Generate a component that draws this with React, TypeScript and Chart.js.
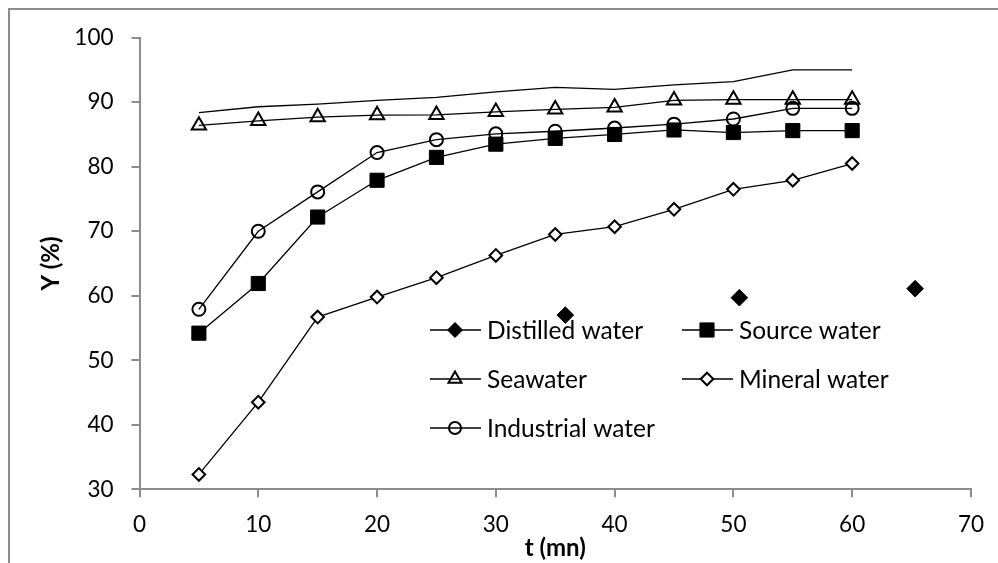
import React, { useEffect, useRef } from 'react';
import { Chart, registerables } from 'chart.js';
import { drawPoint } from 'chart.js/helpers';

Chart.register(...registerables);

// Sampling times (mn)
const times = [5, 10, 15, 20, 25, 30, 35, 40, 45, 50, 55, 60];

// Yield Y (%) for each water type
const distilledWater = [88.4, 89.3, 89.7, 90.3, 90.75, 91.6, 92.3, 92.0, 92.7, 93.2, 95.0, 95.0];
const sourceWater = [54.2, 61.9, 72.2, 77.9, 81.45, 83.5, 84.4, 85.0, 85.7, 85.3, 85.6, 85.6];
const seawater = [86.4, 87.1, 87.7, 88.0, 88.05, 88.5, 88.9, 89.2, 90.3, 90.4, 90.4, 90.4];
const mineralWater = [32.3, 43.5, 56.7, 59.8, 62.8, 66.25, 69.5, 70.7, 73.4, 76.5, 77.9, 80.5];
const industrialWater = [57.9, 70.0, 76.1, 82.2, 84.2, 85.1, 85.5, 86.0, 86.6, 87.4, 89.05, 89.05];

// Stray distilled-water markers
const distilledMarkT = [35.85, 50.5, 65.3];
const distilledMarkY = [57.0, 59.7, 61.1];

// Axis ranges / tick steps
const xMin = 0;
const xMax = 70;
const xStep = 10;
const yMin = 30;
const yMax = 100;
const yStep = 10;

const FONT = 'Lato, "Open Sans", sans-serif';
const AXIS_GRAY = '#8c8c8c';
const CLEAR = 'rgba(0,0,0,0)';

const toPoints = (xs: number[], ys: number[]) => xs.map((x, i) => ({ x, y: ys[i] }));

// Legend drawn inside the plot, two columns by three rows
const legendPlugin = {
  id: 'innerLegend',
  afterDraw(chart: any) {
    const ctx = chart.ctx as CanvasRenderingContext2D;
    const items = [0, 1, 2, 3, 4];
    const colX = [455, 707];
    const rowY = [330, 379, 428];
    ctx.save();
    items.forEach((dsIndex, i) => {
      const ds = chart.data.datasets[dsIndex];
      const cx = colX[i % 2];
      const cy = rowY[Math.floor(i / 2)];
      ctx.strokeStyle = '#000';
      ctx.lineWidth = 1.4;
      ctx.beginPath();
      ctx.moveTo(cx - 25, cy);
      ctx.lineTo(cx + 26, cy);
      ctx.stroke();
      ctx.fillStyle = ds.legendFill;
      ctx.strokeStyle = '#000';
      ctx.lineWidth = ds.legendBorder;
      drawPoint(ctx, {
        pointStyle: ds.pointStyle,
        radius: ds.legendRadius,
        rotation: 0,
        borderWidth: ds.legendBorder,
      } as any, cx, cy);
      ctx.fillStyle = '#000';
      ctx.font = `24.5px ${FONT}`;
      ctx.textAlign = 'left';
      ctx.textBaseline = 'middle';
      ctx.fillText(ds.label, cx + 32, cy + 1);
    });
    ctx.restore();
  },
};

export default function App() {
  const canvasRef = useRef<HTMLCanvasElement | null>(null);

  useEffect(() => {
    if (!canvasRef.current) return;
    const lineBase = {
      borderColor: '#000',
      borderWidth: 1.3,
      pointBorderColor: '#000',
      tension: 0,
      fill: false,
    };
    const chart = new Chart(canvasRef.current, {
      type: 'line',
      data: {
        datasets: [
          {
            ...lineBase,
            label: 'Distilled water',
            data: toPoints(times, distilledWater),
            pointRadius: 0,
            pointStyle: 'rectRot',
            legendFill: '#000',
            legendRadius: 7.5,
            legendBorder: 1,
          } as any,
          {
            ...lineBase,
            label: 'Source water',
            data: toPoints(times, sourceWater),
            pointStyle: 'rect',
            pointRadius: 10,
            pointBackgroundColor: '#000',
            pointBorderWidth: 1,
            legendFill: '#000',
            legendRadius: 10,
            legendBorder: 1,
          } as any,
          {
            ...lineBase,
            label: 'Seawater',
            data: toPoints(times, seawater),
            pointStyle: 'triangle',
            pointRadius: 8.3,
            pointBackgroundColor: CLEAR,
            pointBorderWidth: 2,
            legendFill: CLEAR,
            legendRadius: 7.5,
            legendBorder: 2,
          } as any,
          {
            ...lineBase,
            label: 'Mineral water',
            data: toPoints(times, mineralWater),
            pointStyle: 'rectRot',
            pointRadius: 6.3,
            pointBackgroundColor: '#fff',
            pointBorderWidth: 2,
            legendFill: '#fff',
            legendRadius: 6.3,
            legendBorder: 2,
          } as any,
          {
            ...lineBase,
            label: 'Industrial water',
            data: toPoints(times, industrialWater),
            pointStyle: 'circle',
            pointRadius: 6.5,
            pointBackgroundColor: CLEAR,
            pointBorderWidth: 2,
            legendFill: CLEAR,
            legendRadius: 6,
            legendBorder: 2,
          } as any,
          {
            label: 'Distilled water markers',
            data: toPoints(distilledMarkT, distilledMarkY),
            showLine: false,
            pointStyle: 'rectRot',
            pointRadius: 8.3,
            pointBackgroundColor: '#000',
            pointBorderColor: '#000',
            pointBorderWidth: 1,
            borderColor: '#000',
          } as any,
        ],
      },
      options: {
        animation: false,
        responsive: false,
        maintainAspectRatio: false,
        layout: { padding: { left: 0, top: 37.7, right: 19, bottom: 0 } },
        plugins: {
          legend: { display: false },
          tooltip: { enabled: false },
        },
        scales: {
          x: {
            type: 'linear',
            min: xMin,
            max: xMax,
            afterFit: (s: any) => {
              s.height = 73.7;
            },
            ticks: {
              stepSize: xStep,
              color: '#000',
              padding: 14,
              font: { family: FONT, size: 22.5 },
            },
            grid: {
              drawOnChartArea: false,
              drawTicks: true,
              tickLength: 8,
              color: AXIS_GRAY,
              lineWidth: 2,
            },
            border: { display: true, color: AXIS_GRAY, width: 2 },
            title: {
              display: true,
              text: 't (mn)',
              color: '#000',
              font: { family: FONT, size: 24, weight: 'bold' },
              padding: { top: 0, bottom: 0 },
            },
          },
          y: {
            type: 'linear',
            min: yMin,
            max: yMax,
            afterFit: (s: any) => {
              s.width = 139.5;
            },
            ticks: {
              stepSize: yStep,
              color: '#000',
              padding: 18,
              font: { family: FONT, size: 22.5 },
            },
            grid: {
              drawOnChartArea: false,
              drawTicks: true,
              tickLength: 8,
              color: AXIS_GRAY,
              lineWidth: 2,
            },
            border: { display: true, color: AXIS_GRAY, width: 2 },
            title: {
              display: true,
              text: 'Y (%)',
              color: '#000',
              font: { family: FONT, size: 24, weight: 'bold' },
              padding: { top: 36.6, bottom: 0 },
            },
          },
        },
      } as any,
      plugins: [legendPlugin],
    });
    return () => chart.destroy();
  }, []);

  return (
    <div
      style={{
        position: 'fixed',
        left: 0,
        top: 0,
        width: 998,
        height: 563,
        overflow: 'hidden',
        background: '#fff',
      }}
    >
      <div
        style={{
          position: 'absolute',
          left: 8,
          top: 8,
          width: 1100,
          height: 700,
          borderLeft: `2px solid ${AXIS_GRAY}`,
          borderTop: `2px solid ${AXIS_GRAY}`,
        }}
      />
      <canvas
        ref={canvasRef}
        width={998}
        height={563}
        style={{ position: 'absolute', left: 0, top: 0, width: 998, height: 563 }}
      />
    </div>
  );
}
